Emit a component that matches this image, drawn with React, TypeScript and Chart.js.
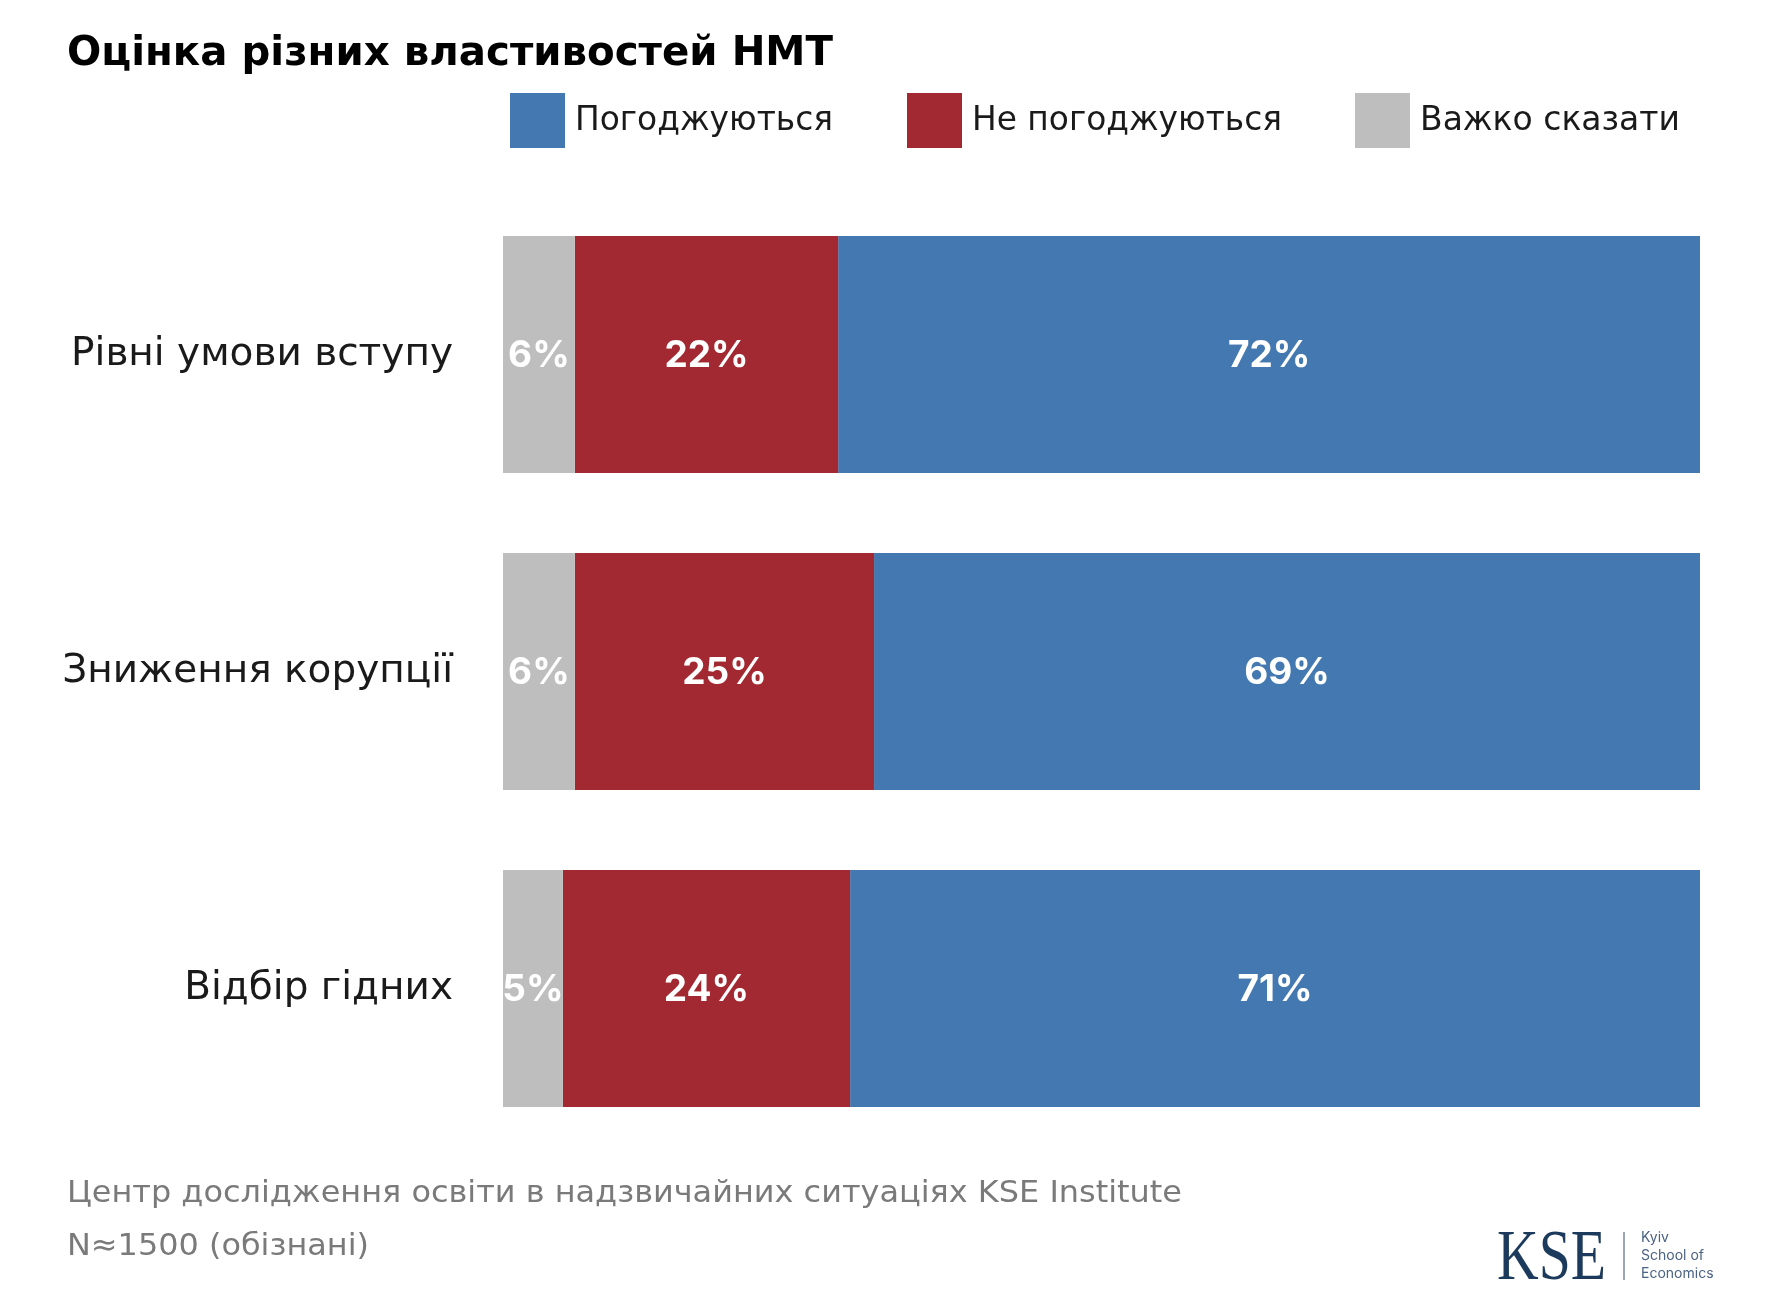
import React, { useEffect, useRef } from "react";
import { Chart, registerables } from "chart.js";

Chart.register(...registerables);

const categories = ["Рівні умови вступу", "Зниження корупції", "Відбір гідних"];
const hardToSay = [6, 6, 5];
const disagree = [22, 25, 24];
const agree = [72, 69, 71];
const seriesNames = ["Погоджуються", "Не погоджуються", "Важко сказати"];
const titleText = "Оцінка різних властивостей НМТ";
const footerLines = [
  "Центр дослідження освіти в надзвичайних ситуаціях KSE Institute",
  "N≈1500 (обізнані)",
];

const BLUE = "#4478B0";
const RED = "#A22931";
const GREY = "#BEBEBE";
const FONT = "Inter, 'Noto Sans', sans-serif";
const WIDE = "'DejaVu Sans', sans-serif";

function fitText(ctx: CanvasRenderingContext2D, text: string, x: number, y: number, width: number) {
  const w = ctx.measureText(text).width;
  ctx.save();
  ctx.translate(x, y);
  ctx.scale(width / w, 1);
  ctx.fillText(text, 0, 0);
  ctx.restore();
}

const decorPlugin = {
  id: "decor",
  afterDatasetsDraw(chart: any) {
    const ctx = chart.ctx;
    ctx.save();
    ctx.fillStyle = "#ffffff";
    ctx.font = `bold 37px ${FONT}`;
    ctx.textAlign = "center";
    ctx.textBaseline = "middle";
    chart.data.datasets.forEach((ds: any, di: number) => {
      const meta = chart.getDatasetMeta(di);
      meta.data.forEach((el: any, i: number) => {
        const p = el.getProps(["x", "y", "base"], true);
        const cx = (p.x + p.base) / 2;
        ctx.fillText(`${ds.data[i]}%`, cx, p.y + 1);
      });
    });
    ctx.restore();
  },
  afterDraw(chart: any) {
    const ctx = chart.ctx;
    ctx.save();
    ctx.textAlign = "left";
    // title
    ctx.fillStyle = "#000000";
    ctx.font = `bold 41px ${WIDE}`;
    ctx.textBaseline = "alphabetic";
    fitText(ctx, titleText, 67, 65, 766);

    // legend (order: agree, disagree, hard to say)
    const legendColors = [BLUE, RED, GREY];
    const boxX = [510, 907, 1355];
    const textW = [258, 310, 260];
    ctx.font = `33px ${WIDE}`;
    ctx.textBaseline = "middle";
    seriesNames.forEach((name, i) => {
      ctx.fillStyle = legendColors[i];
      ctx.fillRect(boxX[i], 93, 55, 55);
      ctx.fillStyle = "#1a1a1a";
      fitText(ctx, name, boxX[i] + 65, 121, textW[i]);
    });

    // footer
    ctx.fillStyle = "#7a7a7a";
    ctx.font = `31px ${WIDE}`;
    fitText(ctx, footerLines[0], 67, 1194, 1115);
    fitText(ctx, footerLines[1], 67, 1247, 302);

    // logo
    ctx.fillStyle = "#1B3A5C";
    ctx.font = `72px 'Liberation Serif', serif`;
    ctx.textBaseline = "alphabetic";
    fitText(ctx, "KSE", 1497, 1279, 109);
    ctx.strokeStyle = "#9AA6B6";
    ctx.lineWidth = 2;
    ctx.beginPath();
    ctx.moveTo(1624, 1232);
    ctx.lineTo(1624, 1280);
    ctx.stroke();
    ctx.fillStyle = "#4A6283";
    ctx.font = `14px ${FONT}`;
    ctx.textBaseline = "middle";
    ctx.fillText("Kyiv", 1641, 1238);
    ctx.fillText("School of", 1641, 1256);
    ctx.fillText("Economics", 1641, 1274);
    ctx.restore();
  },
};

export default function App() {
  const ref = useRef<HTMLCanvasElement>(null);
  useEffect(() => {
    if (!ref.current) return;
    const chart = new Chart(ref.current, {
      type: "bar",
      data: {
        labels: categories,
        datasets: [
          { label: seriesNames[2], data: hardToSay, backgroundColor: GREY },
          { label: seriesNames[1], data: disagree, backgroundColor: RED },
          { label: seriesNames[0], data: agree, backgroundColor: BLUE },
        ],
      },
      options: {
        indexAxis: "y",
        responsive: false,
        animation: false,
        layout: { padding: { top: 196, bottom: 147, right: 78, left: 0 } },
        datasets: { bar: { categoryPercentage: 1, barPercentage: 0.748, borderWidth: 0 } },
        scales: {
          x: {
            stacked: true,
            min: 0,
            max: 100,
            display: false,
          },
          y: {
            stacked: true,
            grid: { display: false, drawTicks: false },
            border: { display: false },
            afterFit: (scale: any) => {
              scale.width = 503;
            },
            ticks: {
              padding: 50,
              color: "#1a1a1a",
              font: { family: WIDE, size: 39 },
            },
          },
        },
        plugins: {
          legend: { display: false },
          title: { display: false },
          tooltip: { enabled: false },
        },
      },
      plugins: [decorPlugin],
    });
    return () => chart.destroy();
  }, []);
  return (
    <div style={{ position: "fixed", left: 0, top: 0, width: 1778, height: 1294, background: "#ffffff" }}>
      <canvas ref={ref} width={1778} height={1294} />
    </div>
  );
}
